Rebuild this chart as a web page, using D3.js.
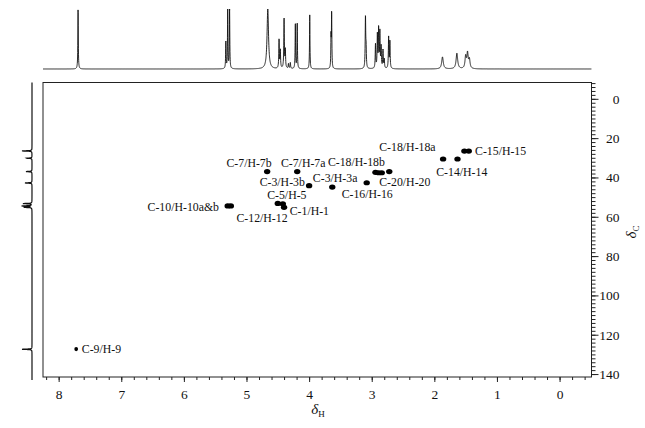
<!DOCTYPE html>
<html><head><meta charset="utf-8">
<script src="https://cdn.jsdelivr.net/npm/d3@7"></script>
<style>body{margin:0;background:#fff}text{font-family:"Liberation Serif","Times New Roman",serif;fill:#111}</style>
</head><body>
<svg id="c" width="645" height="428"></svg>
<script>
// ---- data ----
const hTicks = [8,7,6,5,4,3,2,1,0];
const cTicks = [0,20,40,60,80,100,120,140];

// 2D cross peaks (1H ppm, 13C ppm, relative intensity)
const crossH = [7.72, 5.30,5.25, 4.67, 4.19, 4.50,4.42,4.40, 4.00, 3.63, 3.08, 2.94,2.89,2.84, 2.72, 1.86, 1.63, 1.52,1.45];
const crossC = [127.3, 54.5,54.5, 37.0, 37.0, 53.2,53.4,55.2, 44.2, 44.9, 42.7, 37.4,37.6,37.6, 37.0, 30.6, 30.6, 26.6,26.6];
const crossI = [0.4, 1,1, 1, 1, 1,1,1, 1, 1, 1, 1,1,1, 1, 1, 1, 1,1];

// assignment labels (text, 1H ppm of left edge, 13C ppm of baseline)
const labelText = ["C-9/H-9","C-10/H-10a&b","C-7/H-7b","C-7/H-7a","C-3/H-3b","C-3/H-3a","C-5/H-5","C-12/H-12","C-1/H-1","C-18/H-18b","C-18/H-18a","C-15/H-15","C-14/H-14","C-20/H-20","C-16/H-16"];
const labelH = [7.63, 6.58, 5.32, 4.45, 4.79, 3.94, 4.67, 5.16, 4.31, 3.70, 2.88, 1.35, 1.97, 2.88, 3.48];
const labelC = [129.3, 56.9, 34.8, 34.6, 44.1, 42.3, 50.9, 62.5, 59.1, 34.3, 26.6, 28.5, 39.1, 44.5, 50.6];

// 1H projection peaks (ppm, height, half-width ppm)
const hPeakPpm = [7.69, 5.33,5.30,5.27, 4.66, 4.48,4.46,4.40,4.38,4.33,4.30,4.22,4.19, 3.99, 3.65,3.64, 3.10,3.09, 2.94,2.91,2.89,2.87,2.85,2.82,2.80, 2.73,2.71, 1.87, 1.64, 1.50,1.47,1.44];
const hPeakHt  = [1.0, 0.45,1.0,1.0, 1.0, 0.48,0.3,0.83,0.3,0.08,0.1,0.75,0.76, 0.9, 0.5,0.9, 0.84,0.3, 0.4,0.55,0.65,0.6,0.35,0.3,0.15, 0.52,0.45, 0.2, 0.26, 0.2,0.25,0.15];
const hPeakW   = [0.004, 0.004,0.004,0.004, 0.014, 0.005,0.005,0.005,0.005,0.005,0.005,0.004,0.004, 0.004, 0.004,0.004, 0.005,0.005, 0.005,0.005,0.005,0.005,0.005,0.005,0.005, 0.005,0.005, 0.015, 0.015, 0.012,0.012,0.012];

// 13C projection peaks (ppm, height)
const cPeakPpm = [26.5, 30.2, 37.0, 42.8, 53.3, 54.5, 55.2, 127.4];
const cPeakHt  = [1.0, 0.55, 0.6, 0.7, 0.9, 1.0, 0.8, 1.0];

// ---- layout ----
const svg = d3.select("#c");
const L = 43, R = 591.5, T = 82.5, B = 377;
const x = d3.scaleLinear().domain([8.25,-0.51]).range([L,R]);
const y = d3.scaleLinear().domain([-8.3,141.5]).range([T,B]);

// frame
svg.append("rect").attr("x",L).attr("y",T).attr("width",R-L).attr("height",B-T)
  .attr("fill","none").attr("stroke","#222").attr("stroke-width",1);

// bottom axis
const xMinor = d3.range(8.2,-0.5,-0.2).map(v=>+v.toFixed(1));
const gx = svg.append("g").attr("transform",`translate(0,${B})`);
gx.call(d3.axisBottom(x).tickValues(xMinor).tickSize(3).tickFormat(""));
gx.append("g").call(d3.axisBottom(x).tickValues(hTicks).tickSize(5).tickFormat(d3.format("d")));
gx.selectAll(".domain").remove();
gx.selectAll("line").attr("stroke","#222");
gx.selectAll("text").attr("font-size",13.5).attr("dy","1.0em").style("font-family","Liberation Serif");

// right axis
const cMinor = d3.range(-8,141,2);
const gy = svg.append("g").attr("transform",`translate(${R},0)`);
gy.call(d3.axisRight(y).tickValues(cMinor).tickSize(4).tickFormat(""));
gy.append("g").call(d3.axisRight(y).tickValues(cTicks).tickSize(7).tickFormat(d3.format("d")));
gy.selectAll(".domain").remove();
gy.selectAll("line").attr("stroke","#222");
gy.selectAll("g g text").attr("font-size",13.5).attr("text-anchor","end").attr("x",28).style("font-family","Liberation Serif");

// axis titles
const tx = svg.append("text").attr("x",318).attr("y",414).attr("text-anchor","middle").attr("font-size",15);
tx.append("tspan").attr("font-style","italic").text("δ");
tx.append("tspan").attr("font-size",9).attr("dy",3).text("H");
const ty = svg.append("text").attr("transform","translate(636,232) rotate(-90)").attr("text-anchor","middle").attr("font-size",15);
ty.append("tspan").attr("font-style","italic").text("δ");
ty.append("tspan").attr("font-size",9).attr("dy",3).text("C");

// top 1H projection
const yTop = d3.scaleLinear().domain([0,1]).range([69,9]);
const grid = d3.range(8.25,-0.51,-0.0015);
const spec = grid.map(p=>{
  let s=0; for(let i=0;i<hPeakPpm.length;i++){const w=hPeakW[i];const d=p-hPeakPpm[i];s+=hPeakHt[i]*w*w/(d*d+w*w);} return [p,Math.min(s,1)];
});
svg.append("path").datum(spec)
  .attr("d",d3.line().x(d=>x(d[0])).y(d=>yTop(d[1])))
  .attr("fill","none").attr("stroke","#111").attr("stroke-width",0.9);

// left 13C projection
const xLeft = d3.scaleLinear().domain([0,1]).range([32,22]);
const cgrid = d3.range(-8.3,143,0.03);
const cspec = cgrid.map(p=>{
  let s=0; for(let i=0;i<cPeakPpm.length;i++){const w=0.12;const d=p-cPeakPpm[i];s+=cPeakHt[i]*w*w/(d*d+w*w);} return [p,Math.min(s,1)];
});
svg.append("path").datum(cspec)
  .attr("d",d3.line().x(d=>xLeft(d[1])).y(d=>y(d[0])))
  .attr("fill","none").attr("stroke","#111").attr("stroke-width",1.2);

// cross peaks
const rx = d3.scaleLinear().domain([0,1]).range([1,3.2]);
const ry = d3.scaleLinear().domain([0,1]).range([1.8,2.6]);
svg.append("g").selectAll("ellipse").data(crossH.map((h,i)=>[h,crossC[i],crossI[i]])).join("ellipse")
  .attr("cx",d=>x(d[0])).attr("cy",d=>y(d[1])).attr("rx",d=>rx(d[2])).attr("ry",d=>ry(d[2]))
  .attr("fill","#000");

// labels
svg.append("g").selectAll("text").data(labelText.map((t,i)=>[t,labelH[i],labelC[i]])).join("text")
  .attr("x",d=>x(d[1])).attr("y",d=>y(d[2])).attr("font-size",11.8).text(d=>d[0]);
</script>
</body></html>
